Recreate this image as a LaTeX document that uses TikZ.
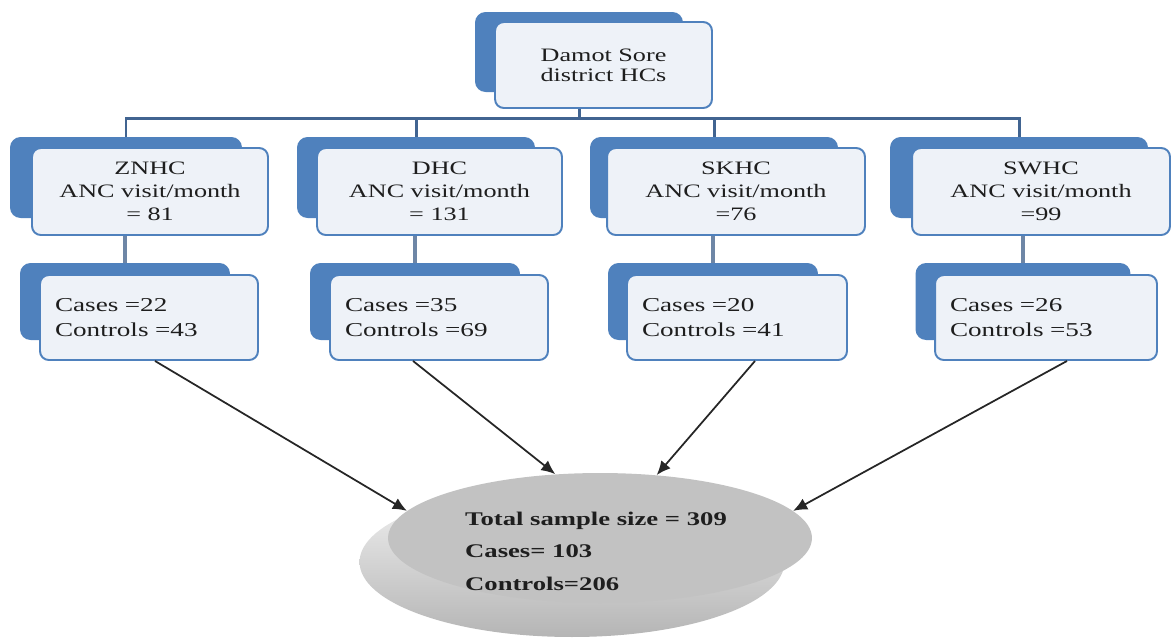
\documentclass[tikz,border=0pt]{standalone}
\usepackage{fontspec}
\setmainfont{Liberation Serif}[FakeStretch=1.38]
\usetikzlibrary{arrows.meta,shapes.geometric}
\definecolor{hcblue}{RGB}{79,129,189}
\definecolor{hcline}{RGB}{65,100,145}
\definecolor{hcstem}{RGB}{110,134,166}
\definecolor{hcfill}{RGB}{238,242,248}
\definecolor{hctext}{RGB}{30,30,30}

\begin{document}
\begin{tikzpicture}
  [x=0.02cm,y=-0.02cm,
   hcback/.style={fill=hcblue,rounded corners=6pt,inner sep=0pt},
   hcfront/.style={draw=hcblue,line width=1.1pt,rounded corners=5pt,fill=hcfill,inner sep=0pt,text=hctext},
   hcmid/.style={hcfront,minimum height=1.74cm,align=center,font=\fontsize{10.8}{13}\selectfont},
   hclow/.style={hcfront,minimum height=1.7cm,inner xsep=0.3cm,align=left,font=\fontsize{11.2}{14.2}\selectfont}]
  \useasboundingbox (0,0) rectangle (1172,637);

  % total
  \node[ellipse,minimum width=8.5cm,minimum height=3cm,top color=gray!10,bottom color=gray!58] (totalsh) at (572,562) {};
  \node[ellipse,fill=gray!48,minimum width=8.48cm,minimum height=2.6cm] (total) at (600,538) {};
  \node[align=left,text=hctext,font=\fontsize{11}{18.5}\selectfont\bfseries] (totaltxt) at (596,551)
        {Total sample size = 309\\Cases= 103\\Controls=206};

  % back boxes
  \node[hcback,minimum width=4.16cm,minimum height=1.6cm] (topb) at (579,52) {};
  \node[hcback,minimum width=4.64cm,minimum height=1.62cm] (znhcb) at (126,177.5) {};
  \node[hcback,minimum width=4.76cm,minimum height=1.62cm] (dhcb) at (416,177.5) {};
  \node[hcback,minimum width=4.96cm,minimum height=1.62cm] (skhcb) at (714,177.5) {};
  \node[hcback,minimum width=5.16cm,minimum height=1.62cm] (swhcb) at (1019,177.5) {};
  \node[hcback,minimum width=4.2cm,minimum height=1.54cm] (znhclb) at (125,301.5) {};
  \node[hcback,minimum width=4.2cm,minimum height=1.54cm] (dhclb) at (415,301.5) {};
  \node[hcback,minimum width=4.2cm,minimum height=1.54cm] (skhclb) at (713,301.5) {};
  \node[hcback,minimum width=4.3cm,minimum height=1.54cm] (swhclb) at (1023,301.5) {};

  % front boxes
  \node[hcfront,minimum width=4.34cm,minimum height=1.72cm,align=center,font=\fontsize{10.8}{11.5}\selectfont] (top) at (603.5,65) {Damot Sore\\district HCs};
  \node[hcmid,minimum width=4.72cm] (znhc) at (150,191.5) {ZNHC\\ANC visit/month\\= 81};
  \node[hcmid,minimum width=4.9cm] (dhc) at (439.5,191.5) {DHC\\ANC visit/month\\= 131};
  \node[hcmid,minimum width=5.16cm] (skhc) at (736,191.5) {SKHC\\ANC visit/month\\=76};
  \node[hcmid,minimum width=5.16cm] (swhc) at (1041,191.5) {SWHC\\ANC visit/month\\=99};
  \node[hclow,text width=3.76cm] (znhcl) at (149,317.5) {Cases =22\\Controls =43};
  \node[hclow,text width=3.76cm] (dhcl) at (439,317.5) {Cases =35\\Controls =69};
  \node[hclow,text width=3.8cm] (skhcl) at (737,317.5) {Cases =20\\Controls =41};
  \node[hclow,text width=3.84cm] (swhcl) at (1046,317.5) {Cases =26\\Controls =53};

  % bus
  \coordinate (bus) at (0,118);
  \begin{scope}[hcline,line width=1.7pt]
  \draw (topb.center |- top.south) -- (topb.center |- bus);
  \draw (znhcb.north) -- (znhcb.north |- bus) -- (swhcb.north |- bus) -- (swhcb.north);
  \foreach \to in {dhcb,skhcb}
    \draw (\to.north |- bus) -- (\to.north);
  \end{scope}

  \foreach \from/\to in {znhc/znhclb,dhc/dhclb,skhc/skhclb,swhc/swhclb}
    \draw[hcstem,line width=2.4pt] (\to.north |- \from.south) -- (\to.north);

  \begin{scope}[line width=1pt,black!85,-{Latex[length=8pt,width=7pt]}]
  \foreach \from/\dx/\to in {znhcl/0.12/172,dhcl/-0.52/125,skhcl/0.36/48,swhcl/0.42/8}
    \draw ([xshift=\dx cm]\from.south) -- (total.\to);
  \end{scope}
\end{tikzpicture}
\end{document}
